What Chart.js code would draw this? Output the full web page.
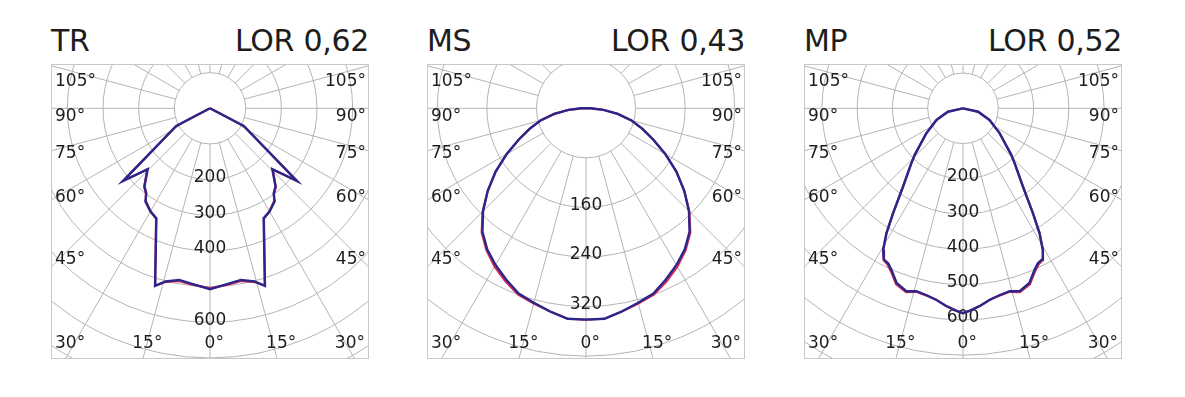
<!DOCTYPE html>
<html>
<head>
<meta charset="utf-8">
<script src="https://cdn.jsdelivr.net/npm/chart.js@4.4.0/dist/chart.umd.min.js"></script>
<style>
body { margin: 0; background: #fff; width: 1185px; height: 397px; overflow: hidden; font-family: "DejaVu Sans", sans-serif; color: #1d1d1d; }
.panel { position: absolute; top: 0; width: 318px; height: 360px; }
.ttl { position: absolute; top: 26px; font-size: 30px; line-height: 30px; font-weight: normal; white-space: nowrap; letter-spacing: -0.3px; }
.ttl.l { left: 0; }
.ttl.r { right: 0; }
.box { position: absolute; top: 64px; left: 0; width: 316px; height: 293px; border: 1px solid #c8c8c8; }
canvas { display: block; }
</style>
</head>
<body>
<div class="panel" style="left:51px"><div class="ttl l" id="t0l"></div><div class="ttl r" id="t0r"></div><div class="box"><canvas id="trChart" width="316" height="293"></canvas></div></div>
<div class="panel" style="left:427px"><div class="ttl l" id="t1l"></div><div class="ttl r" id="t1r"></div><div class="box"><canvas id="msChart" width="316" height="293"></canvas></div></div>
<div class="panel" style="left:804px"><div class="ttl l" id="t2l"></div><div class="ttl r" id="t2r"></div><div class="box"><canvas id="mpChart" width="316" height="293"></canvas></div></div>
<script>
/* ---------- data (angle in degrees from nadir, intensity in cd) ---------- */
const names = ['TR', 'MS', 'MP'];
const lorLabels = ['LOR 0,62', 'LOR 0,43', 'LOR 0,52'];

const trAngles = [0, 5.8, 10.2, 14.4, 17.2, 26, 30, 34.7, 36.8, 40, 45.7, 50.1, 62.3, 180];
const trBlue   = [507, 495, 489, 501, 521, 343, 334, 318, 298, 286, 244, 318, 107, 0];
const trRed    = [505, 497, 492, 503, 520, 345, 333, 316, 300, 287, 246, 316, 107, 0];

const msAngles = [0, 5, 10, 15, 20, 25, 30, 35, 40, 45, 50, 55, 60, 65, 70, 75, 80, 85, 90, 180];
const msBlue   = [341, 341, 333, 325, 318, 305, 292, 278, 260, 235, 207, 178, 148, 120, 97, 76, 52, 28, 8, 0];
const msRed    = [341, 341, 333, 326, 320, 308, 295, 280, 262, 236, 207, 178, 148, 120, 97, 76, 52, 28, 8, 0];

const mpAngles = [0, 2, 5, 8, 11, 14.3, 17.2, 20.8, 23.9, 25.8, 27.6, 29.4, 31.5, 33.7, 37.4, 43.2, 46, 55.7, 66.3, 77.2, 180];
const mpBlue   = [581, 574, 562, 548, 540, 535, 543, 530, 501, 488, 484, 461, 415, 357, 280, 214, 190, 126, 82, 44, 0];
const mpRed    = [581, 574, 562, 548, 541, 537, 546, 534, 505, 492, 486, 462, 416, 358, 281, 215, 191, 126, 82, 44, 0];

const trRings = [200, 300, 400, 600];
const msRings = [160, 240, 320];
const mpRings = [200, 300, 400, 500, 600];

const sideAngleLabels = [105, 90, 75, 60, 45];
const bottomAngleLabels = [-30, -15, 0, 15, 30];

/* ---------- helpers ---------- */
function toXY(deg, v) {
	const t = deg * Math.PI / 180;
	return { x: v * Math.sin(t), y: -v * Math.cos(t) };
}
// left half from the top down to nadir, then the right half back up
function polarPoints(angles, values) {
	const pts = [];
	for (let i = angles.length - 1; i >= 0; i--) pts.push(toXY(-angles[i], values[i]));
	for (let i = 1; i < angles.length; i++) pts.push(toXY(angles[i], values[i]));
	return pts;
}

const TXT = '#1d1d1d', GRID = '#b4b4b4';
const labelFont = '17px "DejaVu Sans"';

const polarGrid = {
	id: 'polarGrid',
	beforeDatasetsDraw(chart, args, opts) {
		const { ctx, chartArea: a, scales: { x, y } } = chart;
		const cx = x.getPixelForValue(0), cy = y.getPixelForValue(0);
		const k = x.getPixelForValue(opts.step) - cx;
		const rMax = Math.hypot(Math.max(cx - a.left, a.right - cx), a.bottom - cy);
		ctx.save();
		ctx.beginPath(); ctx.rect(a.left, a.top, a.width, a.height); ctx.clip();
		ctx.strokeStyle = GRID; ctx.lineWidth = 1;
		for (let r = k; r <= rMax + k; r += k) {
			ctx.beginPath(); ctx.arc(cx, cy, r, 0, 2 * Math.PI); ctx.stroke();
		}
		for (let d = 0; d < 360; d += 15) {
			const t = d * Math.PI / 180;
			ctx.beginPath();
			ctx.moveTo(cx + k * Math.sin(t), cy + k * Math.cos(t));
			ctx.lineTo(cx + rMax * Math.sin(t), cy + rMax * Math.cos(t));
			ctx.stroke();
		}

		ctx.fillStyle = TXT;
		ctx.font = labelFont;
		ctx.textBaseline = 'middle';
		// ring values on the nadir line
		ctx.textAlign = 'center';
		opts.rings.forEach(v => ctx.fillText(String(v), cx, y.getPixelForValue(-v) - 2));

		// angles on the left / right edges
		sideAngleLabels.forEach(deg => {
			const down = (cx - a.left) / Math.tan(deg * Math.PI / 180);
			let ly = cy + down + 8 - 0.333 * (90 - deg);
			ly = Math.max(ly, a.top + 16.5);
			ctx.textAlign = 'left';
			ctx.fillText(deg + '°', a.left + 3, ly);
			ctx.textAlign = 'right';
			ctx.fillText(deg + '°', a.right - 2, ly);
		});

		// angles along the bottom edge
		ctx.textAlign = 'left';
		bottomAngleLabels.forEach(deg => {
			const bx = cx + (a.bottom - cy) * Math.tan(deg * Math.PI / 180);
			const num = String(Math.abs(deg)), txt = num + '°';
			const wNum = ctx.measureText(num).width, wAll = ctx.measureText(txt).width;
			let sx = bx - wNum / 2;
			sx = Math.max(sx, a.left + 2);
			sx = Math.min(sx, a.right - 3 - wAll);
			ctx.fillText(txt, sx, a.bottom - 14);
		});
		ctx.restore();
	}
};

function makeChart(id, angles, blue, red, step, rings, edge) {
	const canvas = document.getElementById(id);
	const W = canvas.width, H = canvas.height, cyPx = 43.3;
	const perPx = edge / (W / 2);
	return new Chart(canvas, {
		type: 'scatter',
		data: {
			datasets: [
				{ label: 'C90-C270', data: polarPoints(angles, blue), borderColor: '#2a268c', borderWidth: 2.4 },
				{ label: 'C0-C180', data: polarPoints(angles, red), borderColor: '#dc2a55', borderWidth: 2.2 }
			]
		},
		options: {
			responsive: false,
			animation: false,
			events: [],
			showLine: true,
			layout: { padding: 0 },
			elements: { point: { radius: 0 }, line: { tension: 0, fill: false } },
			plugins: { legend: { display: false }, tooltip: { enabled: false }, polarGrid: { step, rings } },
			scales: {
				x: { type: 'linear', min: -edge, max: edge, display: false },
				y: { type: 'linear', min: -(H - cyPx) * perPx, max: cyPx * perPx, display: false }
			}
		},
		plugins: [polarGrid]
	});
}

window.addEventListener('DOMContentLoaded', function() {
	names.forEach((n, i) => {
		document.getElementById('t' + i + 'l').innerText = n;
		document.getElementById('t' + i + 'r').innerText = lorLabels[i];
	});
	makeChart('trChart', trAngles, trBlue, trRed, 100, trRings, 443);
	makeChart('msChart', msAngles, msBlue, msRed, 80, msRings, 255);
	makeChart('mpChart', mpAngles, mpBlue, mpRed, 100, mpRings, 448);
});
</script>
</body>
</html>
